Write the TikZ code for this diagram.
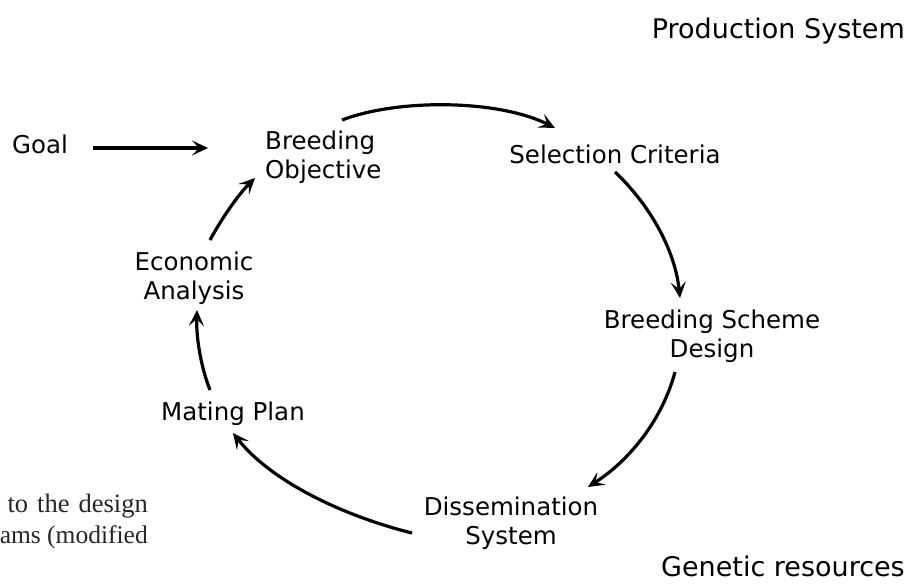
\documentclass[tikz,border=0pt]{standalone}
\usepackage{fontspec}
\setmainfont{DejaVu Sans}
\newfontfamily\serifA{Liberation Serif}
\usetikzlibrary{arrows.meta}
\begin{document}
\begin{tikzpicture}[x=1pt,y=-1pt,
  lbl/.style={font=\fontsize{24.5}{29.5}\selectfont, inner sep=0pt, align=center},
  corner/.style={font=\fontsize{27}{32}\selectfont, inner sep=0pt, anchor=base east},
  cut/.style={font=\serifA\fontsize{26.5}{31}\selectfont, inner sep=0pt, anchor=base east, text=black!85},
  arr/.style={line width=3.2pt, -{Stealth[length=16pt,width=15pt,inset=7pt]}},
]
\useasboundingbox (0,0) rectangle (917,587);

\node[corner] (ps) at (905,38) {Production System};
\node[corner] (gr) at (905,576) {Genetic resources};

\node[lbl, anchor=base west] (goal) at (12,153) {Goal};
\node[lbl, anchor=west, align=left] (bo) at (265,157) {Breeding\\Objective};
\node[lbl, anchor=base] (sc) at (615,163) {Selection Criteria};
\node[lbl] (bsd) at (712,336) {Breeding Scheme\\Design};
\node[lbl] (ds) at (511,523) {Dissemination\\System};
\node[lbl, anchor=base] (mp) at (233,420) {Mating Plan};
\node[lbl] (ea) at (194,278) {Economic\\Analysis};

\node[cut] (t1) at (148,512) {to\hspace{9pt}the\hspace{9pt}design};
\node[cut, font=\serifA\fontsize{25.5}{31}\selectfont] (t2) at (148,543) {ams (modified};

\coordinate (g1) at (93,148);   \coordinate (g2) at (208,148);
\coordinate (a1) at (342,120);  \coordinate (a2) at (555,128);
\coordinate (b1) at (615,172);  \coordinate (b2) at (680,298);
\coordinate (c1) at (675,372);  \coordinate (c2) at (588,487);
\coordinate (d1) at (412,533);  \coordinate (d2) at (233,433);
\coordinate (e1) at (210,390);  \coordinate (e2) at (197,310);
\coordinate (f1) at (210,240);  \coordinate (f2) at (255,178);

\draw[arr] (g1) -- (g2);
\draw[arr] (a1) .. controls (400,98) and (500,100) .. (a2);
\draw[arr] (b1) .. controls (650,205) and (675,250) .. (b2);
\draw[arr] (c1) .. controls (662,420) and (630,460) .. (c2);
\draw[arr] (d1) .. controls (340,515) and (270,480) .. (d2);
\draw[arr] (e1) .. controls (202,370) and (196,340) .. (e2);
\draw[arr] (f1) .. controls (222,218) and (238,195) .. (f2);
\end{tikzpicture}
\end{document}
